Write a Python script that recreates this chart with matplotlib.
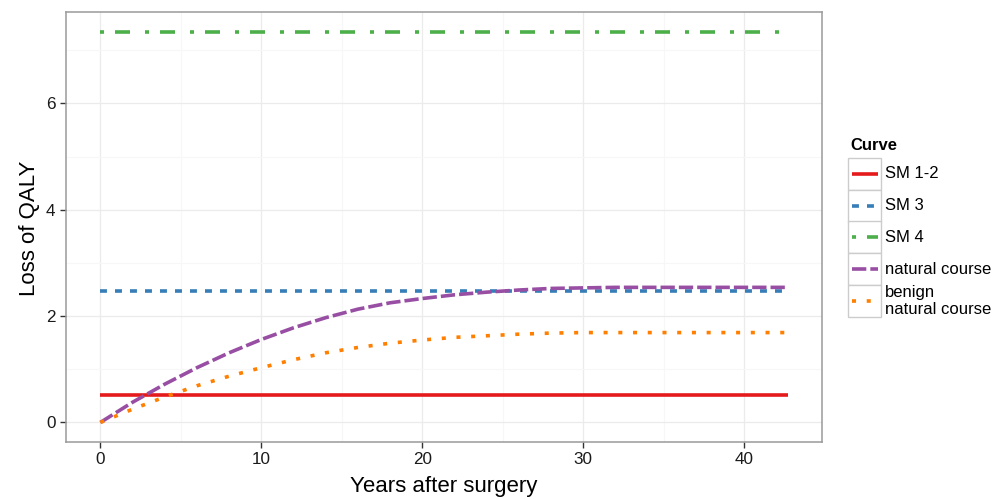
import matplotlib
matplotlib.use('Agg')
import matplotlib.pyplot as plt
from matplotlib.lines import Line2D
from matplotlib.patches import Rectangle

plt.rcParams['font.family'] = ['Liberation Sans', 'DejaVu Sans']
plt.rcParams['lines.scale_dashes'] = False

# values
flat_years = [0, 42.7]
sm12 = [0.51, 0.51]
sm3 = [2.48, 2.48]
sm4 = [7.35, 7.35]

curve_years = [0, 2, 4, 6, 8, 10, 12, 14, 16, 18, 20, 22, 24, 26, 28, 30,
               32, 34, 36, 38, 40, 42.7]
natural = [0, 0.38, 0.72, 1.03, 1.31, 1.56, 1.78, 1.97, 2.13, 2.25, 2.33,
           2.40, 2.45, 2.49, 2.52, 2.53, 2.54, 2.54, 2.54, 2.54, 2.54, 2.54]
benign = [0, 0.25, 0.48, 0.69, 0.87, 1.03, 1.18, 1.31, 1.41, 1.49, 1.55,
          1.60, 1.63, 1.66, 1.68, 1.69, 1.69, 1.69, 1.69, 1.69, 1.69, 1.69]

labels = ['SM 1-2', 'SM 3', 'SM 4', 'natural course', 'benign\nnatural course']
colors = ['#E41A1C', '#377EB8', '#4DAF4A', '#984EA3', '#FF7F00']
dashes = [None, (5.0, 5.8), (2.9, 7.9, 10.8, 10.8), (10.3, 2.9), (2.9, 7.7)]

x_ticks = [0, 10, 20, 30, 40]
y_ticks = [0, 2, 4, 6]

W, H = 1006, 499
fig = plt.figure(figsize=(W / 100, H / 100), dpi=100)
ax = fig.add_axes([66 / W, 1 - 442 / H, (822 - 66) / W, (442 - 12) / H])

series = [(flat_years, sm12), (flat_years, sm3), (flat_years, sm4),
          (curve_years, natural), (curve_years, benign)]
lw = 2.6
for (xs, ys), col, d in zip(series, colors, dashes):
    line, = ax.plot(xs, ys, color=col, lw=lw, solid_capstyle='butt')
    if d is not None:
        line.set_dashes(d)

ax.set_xlim(-2.135, 44.835)
ax.set_ylim(-0.3675, 7.7175)
ax.set_xticks(x_ticks)
ax.set_yticks(y_ticks)
ax.set_xticks([5, 15, 25, 35], minor=True)
ax.set_yticks([1, 3, 5, 7], minor=True)
ax.grid(which='major', color='#EBEBEB', lw=0.9)
ax.grid(which='minor', color='#F7F7F7', lw=0.8)
ax.set_axisbelow(True)
for s in ax.spines.values():
    s.set_color('#9A9A9A')
    s.set_linewidth(1.1)
ax.tick_params(which='major', length=4.5, width=1.0, color='#333333',
               labelsize=12.3, labelcolor='#1A1A1A', pad=3)
ax.tick_params(which='minor', length=0)

# the reference crops this label at the bottom edge; keep it just inside
fig.text(444 / W, 1 - 497 / H, 'Years after surgery', ha='center', va='bottom',
         fontsize=16)
fig.text(30 / W, 1 - 228 / H, 'Loss of QALY', ha='center', va='center',
         rotation=90, fontsize=16)

# legend drawn by hand to get the ggplot look
fig.text(850 / W, 1 - 145 / H, 'Curve', ha='left', va='center',
         fontsize=12, fontweight='bold')
edges = [158, 190, 221.5, 253, 285, 317]
for i, (lab, col, d) in enumerate(zip(labels, colors, dashes)):
    top, bot = edges[i], edges[i + 1]
    fig.patches.append(Rectangle((848 / W, 1 - bot / H), 33 / W, (bot - top) / H,
                                 transform=fig.transFigure, facecolor='white',
                                 edgecolor='#CCCCCC', lw=1.0))
    yc = 1 - (top + bot) / 2 / H
    key = Line2D([852 / W, 878 / W], [yc, yc], transform=fig.transFigure,
                 color=col, lw=lw, solid_capstyle='butt')
    if d is not None:
        key.set_dashes(d)
    fig.lines.append(key)
    fig.text(885 / W, yc, lab, ha='left', va='center', fontsize=12,
             linespacing=1.15)

fig.savefig('out.png', dpi=100)
